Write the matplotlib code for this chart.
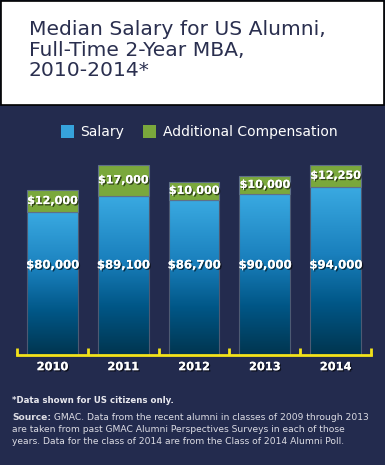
import matplotlib.pyplot as plt
import matplotlib.patheffects as pe
from matplotlib.colors import LinearSegmentedColormap
from matplotlib.patches import Rectangle
import numpy as np

years = ["2010", "2011", "2012", "2013", "2014"]
salary = [80000, 89100, 86700, 90000, 94000]
extra = [12000, 17000, 10000, 10000, 12250]
salary_labels = ["$80,000", "$89,100", "$86,700", "$90,000", "$94,000"]
extra_labels = ["$12,000", "$17,000", "$10,000", "$10,000", "$12,250"]

navy = "#232b4e"
blue = "#36a3dc"
green = "#7aa83c"
yellow = "#f2e21a"

W, H = 385, 465
fig = plt.figure(figsize=(W / 100, H / 100), dpi=100)
fig.patch.set_facecolor(navy)

# white title box
fig.add_artist(Rectangle((0.5 / W, 1 - 105 / H), (W - 1.5) / W, 104 / H,
                         transform=fig.transFigure, facecolor="white",
                         edgecolor="black", linewidth=1.2))
fig.text(29 / W, 1 - 20 / H, "Median Salary for US Alumni,\nFull-Time 2-Year MBA,\n2010-2014*",
         fontsize=14.6, color="#2a2f4f", va="top", ha="left", linespacing=1.1)

# legend
fig.add_artist(Rectangle((61 / W, 1 - 138 / H), 13 / W, 13 / H, transform=fig.transFigure,
                         facecolor=blue, edgecolor="none"))
fig.text(80 / W, 1 - 132 / H, "Salary", fontsize=10, color="white", va="center")
fig.add_artist(Rectangle((143 / W, 1 - 138 / H), 13 / W, 13 / H, transform=fig.transFigure,
                         facecolor=green, edgecolor="none"))
fig.text(163 / W, 1 - 132 / H, "Additional Compensation", fontsize=10, color="white", va="center")

# axes: baseline at y=355px, 1.79 px per $1000
ax = fig.add_axes([17 / W, 1 - 355 / H, 354 / W, 215 / H])
ax.set_facecolor("none")
ax.set_xlim(-0.5, 4.5)
ax.set_ylim(0, 215 / 1.79 * 1000)

x = np.arange(len(years))
w = 0.72
cmap = LinearSegmentedColormap.from_list(
    "sal", [(0, "#00354f"), (0.3, "#005686"), (0.6, "#1a80bd"), (1, "#3aaae2")])
grad = np.linspace(0, 1, 256).reshape(-1, 1)

sal_bars = ax.bar(x, salary, width=w, color="none", edgecolor="#4d5a73", linewidth=0.8, zorder=3)
for b, s in zip(sal_bars, salary):
    im = ax.imshow(grad, extent=(b.get_x(), b.get_x() + w, 0, s), origin="lower",
                   cmap=cmap, aspect="auto", zorder=2)
    im.set_clip_path(b)
ax.bar(x, extra, bottom=salary, width=w, color=green, edgecolor="#5f7088", linewidth=0.8, zorder=3)

shadow = [pe.withSimplePatchShadow(offset=(1, -1), shadow_rgbFace="black", alpha=0.6), pe.Normal()]
for i in range(len(years)):
    ax.text(x[i], 50300, salary_labels[i], ha="center", va="center", color="white",
            fontsize=8.4, fontweight="bold", zorder=5, path_effects=shadow)
    ax.text(x[i], salary[i] + extra[i] / 2, extra_labels[i], ha="center", va="center",
            color="white", fontsize=8, fontweight="bold", zorder=5, path_effects=shadow)

for s in ["top", "left", "right"]:
    ax.spines[s].set_visible(False)
ax.spines["bottom"].set_color(yellow)
ax.spines["bottom"].set_linewidth(2)
ax.spines["bottom"].set_zorder(6)
ax.set_yticks([])
ax.set_xticks(np.arange(-0.5, 5, 1))
ax.set_xticklabels([])
ax.tick_params(axis="x", direction="in", length=5, width=2, color=yellow)
for i, yr in enumerate(years):
    ax.text(x[i], -6800, yr, ha="center", va="center", color="white", fontsize=8.2,
            fontweight="bold", path_effects=shadow)

# footnotes
fig.text(12 / W, 1 - 400 / H, "*Data shown for US citizens only.", fontsize=6.2,
         fontweight="bold", color="#e8e8ee", va="center")
src = fig.text(12 / W, 1 - 417 / H, "Source:", fontsize=6.6, fontweight="bold",
               color="#dcdce4", va="center")
plt.annotate(" GMAC. Data from the recent alumni in classes of 2009 through 2013",
             xy=(1, 0.5), xycoords=src, va="center", ha="left", fontsize=6.6, color="#dcdce4")
fig.text(12 / W, 1 - 429 / H, "are taken from past GMAC Alumni Perspectives Surveys in each of those",
         fontsize=6.6, color="#dcdce4", va="center")
fig.text(12 / W, 1 - 441 / H, "years. Data for the class of 2014 are from the Class of 2014 Alumni Poll.",
         fontsize=6.6, color="#dcdce4", va="center")

fig.savefig("out.png", dpi=100, facecolor=navy)
